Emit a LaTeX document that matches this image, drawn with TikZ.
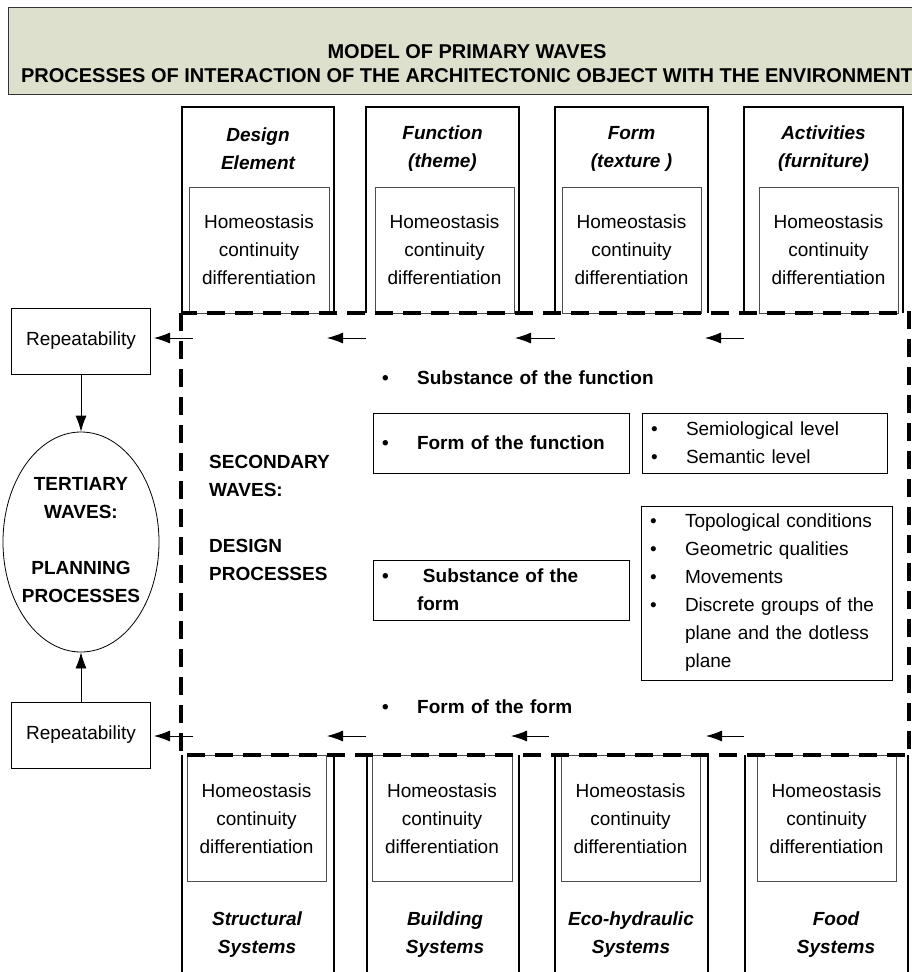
\documentclass[tikz,border=0pt]{standalone}
\usepackage{fontspec}
\setmainfont{Liberation Sans}
\usetikzlibrary{shapes.geometric, arrows.meta, positioning}
\definecolor{bannerfill}{RGB}{221,224,205}
\tikzset{>={Latex[length=16pt,width=11pt]}}
\tikzstyle{banner}=[draw=black!80, line width=1.4pt, fill=bannerfill]
\tikzstyle{colframe}=[line width=2.4pt]
\tikzstyle{innerbox}=[draw=black!70, line width=0.9pt, minimum height=126, align=center]
\tikzstyle{coltitle}=[font=\fontsize{19}{28}\selectfont\bfseries\itshape, align=center]
\tikzstyle{plainbox}=[draw, line width=1pt, minimum width=139, minimum height=66]
\tikzstyle{listbox}=[draw, line width=1pt, align=left, inner xsep=9pt]
\tikzstyle{listtext}=[align=left, inner xsep=9pt, text width=300]
\tikzstyle{frame}=[line width=3.6pt, dash pattern=on 18pt off 10pt]
\tikzstyle{flow}=[->, line width=0.8pt]
\newcommand{\itembul}{\makebox[35pt][l]{\textbullet}}
\newcommand{\itemgap}{\hspace*{35pt}}

\begin{document}
\begin{tikzpicture}[x=1pt, y=-1pt, every node/.style={font=\fontsize{19}{28}\selectfont, inner sep=0}]
\useasboundingbox (0,0) rectangle (912,972);

\node[banner, anchor=north west, minimum width=930, minimum height=87] (banner) at (8,7) {};
\node[font=\fontsize{20}{24}\selectfont\bfseries, align=center] (bannertext) at (467,64) {MODEL OF PRIMARY WAVES\\PROCESSES OF INTERACTION OF THE ARCHITECTONIC OBJECT WITH THE ENVIRONMENT};

% primary waves, top
\draw[colframe] (182,313) -- (182,107) -- (334,107) -- (334,313);
\draw[colframe] (366,313) -- (366,107) -- (519,107) -- (519,313);
\draw[colframe] (555,313) -- (555,107) -- (708,107) -- (708,313);
\draw[colframe] (744,313) -- (744,107) -- (903,107) -- (903,313);
\node[coltitle] (tdesign) at (258,149) {Design\\Element};
\node[coltitle] (tfunction) at (442.5,149) {Function\\(theme)};
\node[coltitle] (tform) at (631.5,149) {Form\\(texture )};
\node[coltitle] (tactivity) at (823.5,149) {Activities\\(furniture)};
\node[innerbox, minimum width=140] (thcd1) at (259,250) {Homeostasis\\continuity\\differentiation};
\node[innerbox, minimum width=139] (thcd2) at (444.5,250) {Homeostasis\\continuity\\differentiation};
\node[innerbox, minimum width=139] (thcd3) at (631.5,250) {Homeostasis\\continuity\\differentiation};
\node[innerbox, minimum width=139] (thcd4) at (828.5,250) {Homeostasis\\continuity\\differentiation};

% primary waves, bottom
\draw[colframe] (182,755) -- (182,980) (334,755) -- (334,980)
  (367,755) -- (367,980) (519,755) -- (519,980)
  (555,755) -- (555,980) (708,755) -- (708,980)
  (745,755) -- (745,980) (908,755) -- (908,980);
\node[innerbox, minimum width=139] (bhcd1) at (256.5,818.5) {Homeostasis\\continuity\\differentiation};
\node[innerbox, minimum width=140] (bhcd2) at (442,818.5) {Homeostasis\\continuity\\differentiation};
\node[innerbox, minimum width=139] (bhcd3) at (630.5,818.5) {Homeostasis\\continuity\\differentiation};
\node[innerbox, minimum width=139] (bhcd4) at (826.5,818.5) {Homeostasis\\continuity\\differentiation};
\node[coltitle] (bstructural) at (257,935) {Structural\\Systems};
\node[coltitle] (bbuilding) at (445,935) {Building\\Systems};
\node[coltitle] (becohydraulic) at (631,935) {Eco-hydraulic\\Systems};
\node[coltitle] (bfood) at (836,935) {Food\\Systems};

% secondary waves
\draw[frame] (181,313) rectangle (909,755);
\node[font=\fontsize{19}{28}\selectfont\bfseries, anchor=west, align=left] (secondary) at (209,518) {SECONDARY\\WAVES:\\[28pt]DESIGN\\PROCESSES};
\node[listtext, anchor=west, font=\fontsize{19}{28}\selectfont\bfseries] (subfunction) at (373,378) {\itembul Substance of the function};
\node[listbox, text width=238, minimum height=60, font=\fontsize{19}{28}\selectfont\bfseries] (formfunction) at (501,443) {\itembul Form of the function};
\node[listbox, text width=227, minimum height=60, right=12pt of formfunction] (semio) {\itembul Semiological level\\\itembul Semantic level};
\node[listbox, text width=238, minimum height=60, font=\fontsize{19}{28}\selectfont\bfseries] (subform) at (501,590) {\itembul\hspace{6pt}Substance of the\\\itemgap form};
\node[listbox, text width=233, minimum height=174] (topo) at (766.5,593) {\itembul Topological conditions\\\itembul Geometric qualities\\\itembul Movements\\\itembul Discrete groups of the\\\itemgap plane and the dotless\\\itemgap plane};
\node[listtext, anchor=west, font=\fontsize{19}{28}\selectfont\bfseries] (formform) at (373,707) {\itembul Form of the form};

% tertiary waves
\node[plainbox] (rep1) at (81,341) {Repeatability};
\node[plainbox] (rep2) at (81,735) {Repeatability};
\node[ellipse, draw, line width=0.8pt, minimum width=156, minimum height=220] (tert) at (81,542) {};
\node[font=\fontsize{19}{28}\selectfont\bfseries, align=center] (terttext) at (81,540) {TERTIARY\\WAVES:\\[28pt]PLANNING\\PROCESSES};
\draw[flow] (rep1.south) -- (tert.north);
\draw[flow] (rep2.north) -- (tert.south);

\coordinate (ta1) at (193,338);
\coordinate (ta2) at (366,338);
\coordinate (ha2) at (327,338);
\coordinate (ta3) at (555,338);
\coordinate (ha3) at (515,338);
\coordinate (ta4) at (744,338);
\coordinate (ha4) at (705,338);
\coordinate (ba1) at (193,736);
\coordinate (ba2) at (366,736);
\coordinate (hb2) at (327,736);
\coordinate (ba3) at (549,736);
\coordinate (hb3) at (511,736);
\coordinate (ba4) at (744,736);
\coordinate (hb4) at (706,736);
\draw[flow, shorten >=3pt] (ta1) -- (ta1 -| rep1.east);
\draw[flow] (ta2) -- (ha2);
\draw[flow] (ta3) -- (ha3);
\draw[flow] (ta4) -- (ha4);
\draw[flow, shorten >=3pt] (ba1) -- (ba1 -| rep2.east);
\draw[flow] (ba2) -- (hb2);
\draw[flow] (ba3) -- (hb3);
\draw[flow] (ba4) -- (hb4);
\end{tikzpicture}
\end{document}
